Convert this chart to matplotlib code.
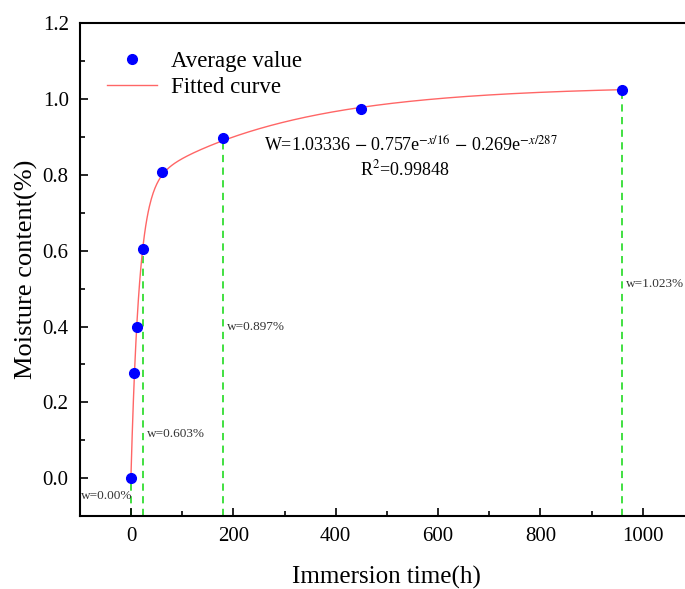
import numpy as np
import matplotlib
matplotlib.use("Agg")
import matplotlib.pyplot as plt

plt.rcParams['font.family'] = ['Liberation Serif', 'DejaVu Serif']
plt.rcParams['mathtext.fontset'] = 'stix'

# measured points
time_h = [0, 6, 12, 24, 60, 180, 450, 960]
moisture = [0.0, 0.277, 0.400, 0.603, 0.806, 0.897, 0.973, 1.023]

# fit parameters
w0, a1, t1, a2, t2 = 1.03336, 0.757, 16, 0.269, 287

# marked lines
mark_x = [0, 24, 180, 960]
mark_y = [0.0, 0.603, 0.897, 1.023]
mark_txt = ["w=0.00%", "w=0.603%", "w=0.897%", "w=1.023%"]

fig = plt.figure(figsize=(6.85, 5.89), dpi=100)
ax = fig.add_axes([0.1165, 0.1234, 0.8965, 0.8379])

xx = np.linspace(0, 960, 800)
yy = w0 - a1 * np.exp(-xx / t1) - a2 * np.exp(-xx / t2)

for x, y in zip(mark_x, mark_y):
    ax.plot([x, x], [-0.1, y], ls=(0, (4, 3)), color='#33dd33', lw=1.3, zorder=1)

ax.plot(xx, yy, color='#ff6666', lw=1.0, label='Fitted curve', zorder=2)
ax.plot(time_h, moisture, 'o', color='blue', ms=7, label='Average value', zorder=3)

ax.text(-98, -0.055, mark_txt[0], fontsize=9.5, color='#333333')
ax.text(32, 0.11, mark_txt[1], fontsize=9.5, color='#333333')
ax.text(188, 0.39, mark_txt[2], fontsize=9.5, color='#333333')
ax.text(968, 0.505, mark_txt[3], fontsize=9.5, color='#333333')

ax.text(547, 0.875, r"W=1.03336 $-$ 0.757e$^{-x/16}$ $-$ 0.269e$^{-x/287}$",
        fontsize=13, ha='center', va='center')
ax.text(535, 0.815, r"R$^{2}$=0.99848", fontsize=13, ha='center', va='center')

ax.set_xlim(-100, 1100)
ax.set_ylim(-0.1, 1.2)
ax.set_xticks([0, 200, 400, 600, 800, 1000])
ax.set_xticks(np.arange(-100, 1101, 100), minor=True)
ax.set_yticks(np.arange(0, 1.21, 0.2))
ax.set_yticks(np.arange(-0.1, 1.21, 0.1), minor=True)
ax.set_yticklabels([f"{v:.1f}" for v in np.arange(0, 1.21, 0.2)])
ax.tick_params(which='both', direction='in', labelsize=15, width=1.2, pad=8)
ax.tick_params(which='major', length=6)
ax.tick_params(which='minor', length=3.5)
for s in ax.spines.values():
    s.set_linewidth(1.5)

ax.set_xlabel('Immersion time(h)', fontsize=18, labelpad=14)
ax.set_ylabel('Moisture content(%)', fontsize=19, labelpad=3)

h, l = ax.get_legend_handles_labels()
ax.legend([h[1], h[0]], [l[1], l[0]], loc='upper left', frameon=False,
          fontsize=16.5, bbox_to_anchor=(0.018, 0.975), handlelength=2.2,
          borderaxespad=0.3, labelspacing=0.2, handletextpad=0.6)

fig.savefig('out.png', dpi=100)
